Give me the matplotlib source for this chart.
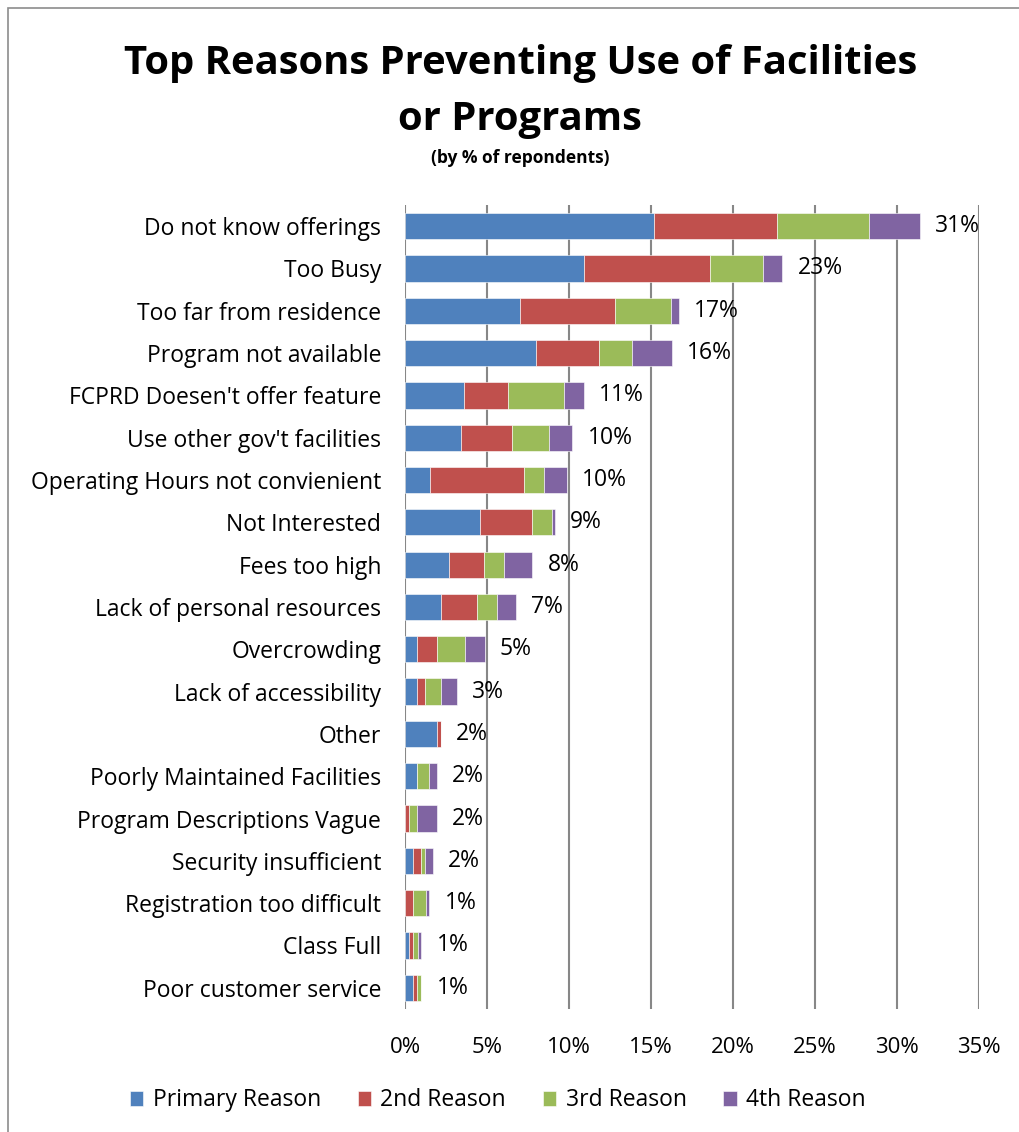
import matplotlib.pyplot as plt
from matplotlib.patches import Rectangle
import numpy as np

plt.rcParams['font.family'] = ['Open Sans', 'DejaVu Sans']

# =========================
# Data (percent of respondents)
# =========================
reasons = [
    "Do not know offerings",
    "Too Busy",
    "Too far from residence",
    "Program not available",
    "FCPRD Doesen't offer feature",
    "Use other gov't facilities",
    "Operating Hours not convienient",
    "Not Interested",
    "Fees too high",
    "Lack of personal resources",
    "Overcrowding",
    "Lack of accessibility",
    "Other",
    "Poorly Maintained Facilities",
    "Program Descriptions Vague",
    "Security insufficient",
    "Registration too difficult",
    "Class Full",
    "Poor customer service",
]

primary = [15.2, 10.9, 7.0, 8.0, 3.6, 3.4, 1.5, 4.6, 2.7, 2.2, 0.75, 0.75, 1.95, 0.73, 0.0, 0.5, 0.0, 0.26, 0.5]
second = [7.5, 7.7, 5.8, 3.85, 2.7, 3.15, 5.75, 3.15, 2.1, 2.2, 1.2, 0.5, 0.25, 0.0, 0.25, 0.48, 0.49, 0.25, 0.25]
third = [5.6, 3.2, 3.4, 2.0, 3.4, 2.2, 1.2, 1.2, 1.25, 1.2, 1.7, 0.95, 0.0, 0.75, 0.5, 0.26, 0.77, 0.26, 0.25]
fourth = [3.1, 1.2, 0.5, 2.4, 1.2, 1.45, 1.4, 0.2, 1.7, 1.15, 1.2, 0.97, 0.0, 0.47, 1.2, 0.47, 0.22, 0.23, 0.0]

series_names = ["Primary Reason", "2nd Reason", "3rd Reason", "4th Reason"]
colors = ["#4F81BD", "#C0504D", "#9BBB59", "#8064A2"]

ticks = [0, 5, 10, 15, 20, 25, 30, 35]

# =========================
# Plot
# =========================
fig = plt.figure(figsize=(10.2, 11.32), dpi=100)
ax = fig.add_axes([0.397, 0.1087, 0.563, 0.7102])

y = np.arange(len(reasons))
left = np.zeros(len(reasons))
for vals, name, col in zip([primary, second, third, fourth], series_names, colors):
    ax.barh(y, vals, left=left, height=0.62, color=col, label=name,
            edgecolor="white", linewidth=0.4)
    left = left + np.array(vals)

for yi, total in zip(y, left):
    ax.annotate(f"{round(total):.0f}%", (total, yi), xytext=(11, 0),
                textcoords="offset points", va="center", ha="left", fontsize=16.5)

ax.set_xlim(0, 35)
ax.set_ylim(len(reasons) - 0.5, -0.5)
ax.set_xticks(ticks)
ax.set_xticklabels([f"{t}%" for t in ticks], fontsize=16)
ax.set_yticks(y)
ax.set_yticklabels(reasons, fontsize=16.5)
ax.tick_params(length=0, pad=17)
ax.tick_params(axis="x", pad=20)
ax.xaxis.grid(True, color="#878787", linewidth=1.5)
ax.set_axisbelow(True)
for s in ax.spines.values():
    s.set_visible(False)

fig.text(0.51, 0.944, "Top Reasons Preventing Use of Facilities", ha="center",
         va="center", fontsize=28.8, fontweight="bold")
fig.text(0.51, 0.894, "or Programs", ha="center", va="center",
         fontsize=28.8, fontweight="bold")
fig.text(0.51, 0.860, "(by % of repondents)", ha="center", va="center",
         fontsize=12.5, fontweight="bold")

fig.legend(loc="center", bbox_to_anchor=(0.488, 0.028), ncol=4, frameon=False,
           fontsize=16.5, handlelength=0.6, handleheight=0.6, handletextpad=0.4,
           columnspacing=1.6)

# light frame around the chart area
fig.patches.append(Rectangle((0.008, -0.01), 1.2, 1.003, transform=fig.transFigure,
                             fill=False, edgecolor="#8c8c8c", linewidth=1.2))

fig.savefig("out.png", dpi=100)
